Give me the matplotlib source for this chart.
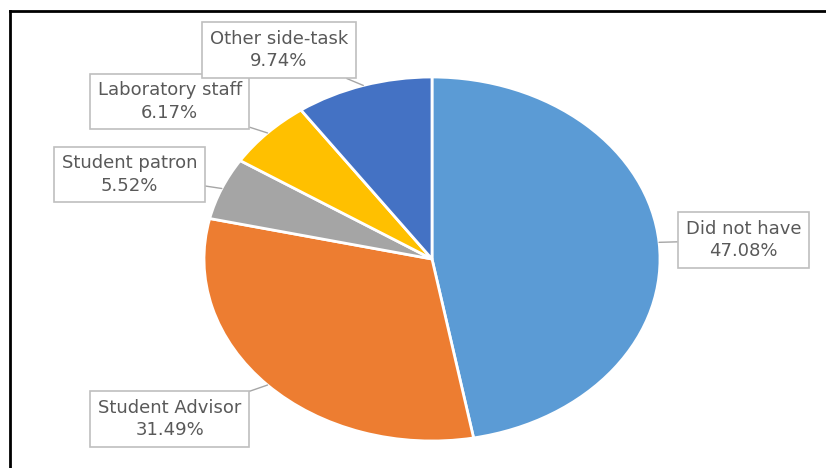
import numpy as np
import matplotlib
matplotlib.use("Agg")
import matplotlib.pyplot as plt
from matplotlib.lines import Line2D

labels = ["Did not have", "Student Advisor", "Student patron", "Laboratory staff", "Other side-task"]
shares = [47.08, 31.49, 5.52, 6.17, 9.74]
colors = ["#5B9BD5", "#ED7D31", "#A5A5A5", "#FFC000", "#4472C4"]

# where each callout box sits (data units, pie radius = 1)
box_pos = [(1.366, 0.104), (-1.151, -0.879), (-1.327, 0.464), (-1.151, 0.865), (-0.671, 1.148)]

plt.rcParams["font.family"] = ["DejaVu Sans"]

fig = plt.figure(figsize=(8.26, 4.68), dpi=100)
ax = fig.add_axes([0, 0, 1, 1])

wedges, _ = ax.pie(shares, colors=colors, startangle=90, counterclock=False,
                   wedgeprops=dict(edgecolor="white", linewidth=2))

# slightly squashed pie, wider than tall
ax.set_aspect("auto")
ax.set_xlim(-432 / 228, (826 - 432) / 228)
ax.set_ylim((259 - 468) / 182, 259 / 182)
ax.axis("off")

for w, lab, val, (bx, by) in zip(wedges, labels, shares, box_pos):
    mid = np.deg2rad((w.theta1 + w.theta2) / 2)
    tip = (np.cos(mid), np.sin(mid))
    ax.annotate(f"{lab}\n{val:.2f}%", xy=tip, xytext=(bx, by),
                ha="center", va="center", fontsize=13, color="#595959",
                linespacing=1.32,
                bbox=dict(boxstyle="square,pad=0.42", fc="white", ec="#BFBFBF", lw=1.2),
                arrowprops=dict(arrowstyle="-", color="#A6A6A6", lw=1,
                                shrinkA=0, shrinkB=0))

# frame lines along top and left edge
fig.add_artist(Line2D([10 / 826, 1], [1 - 11 / 468] * 2, color="black", lw=2,
                      transform=fig.transFigure))
fig.add_artist(Line2D([10 / 826] * 2, [0, 1 - 11 / 468], color="black", lw=2,
                      transform=fig.transFigure))

fig.savefig("out.png", dpi=100)
